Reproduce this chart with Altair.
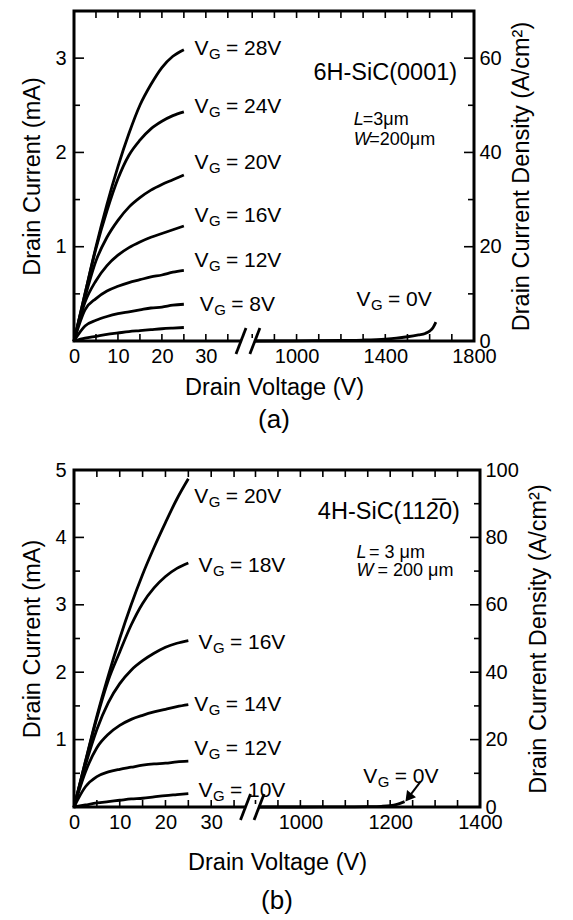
import altair as alt
import pandas as pd

FONT = "Liberation Sans"

# ---------------- data ----------------
VD = [0, 2.5, 5, 7.5, 10, 12.5, 15, 17.5, 20, 22.5, 25]

# panel (a): 6H-SiC(0001)
A_GATE = ["28V", "24V", "20V", "16V", "12V", "8V", "4V"]
A_ID = [
    [0, 0.50, 1.00, 1.45, 1.85, 2.20, 2.50, 2.72, 2.90, 3.02, 3.09],
    [0, 0.50, 0.98, 1.38, 1.72, 1.97, 2.13, 2.25, 2.33, 2.39, 2.43],
    [0, 0.46, 0.85, 1.10, 1.28, 1.42, 1.52, 1.60, 1.66, 1.71, 1.76],
    [0, 0.41, 0.64, 0.80, 0.91, 0.99, 1.05, 1.10, 1.14, 1.18, 1.22],
    [0, 0.33, 0.45, 0.53, 0.58, 0.62, 0.65, 0.68, 0.70, 0.73, 0.75],
    [0, 0.16, 0.22, 0.26, 0.29, 0.31, 0.33, 0.35, 0.36, 0.38, 0.39],
    [0, 0.03, 0.05, 0.07, 0.085, 0.10, 0.11, 0.12, 0.13, 0.137, 0.143],
]
A_OFF_VD = [790, 1000, 1200, 1300, 1400, 1450, 1500, 1550, 1580, 1600, 1615, 1628]
A_OFF_ID = [0, 0.002, 0.006, 0.01, 0.02, 0.03, 0.045, 0.065, 0.08, 0.105, 0.14, 0.2]
A_LAB_TXT = ["= 28V", "= 24V", "= 20V", "= 16V", "= 12V", "= 8V", "= 0V"]
A_LAB_VD = [27.4, 27.4, 27.4, 27.4, 27.4, 28.6, 1270]
A_LAB_ID = [3.10, 2.48, 1.89, 1.33, 0.85, 0.38, 0.43]
A_XDOMAIN = [0, 38, 790, 1800]
A_XLABELS = [0, 10, 20, 30, 1000, 1400, 1800]
A_XTICKS = [5, 10, 15, 20, 25, 30, 35, 800, 900, 1000, 1100, 1200, 1300, 1400, 1500, 1600, 1700]
A_BREAK = [38, 812]
A_YMAX, A_JMAX = 3.5, 70
A_YLABELS = [1, 2, 3]
A_YMAJOR = [1, 2, 3]
A_YMINOR = [0.5, 1.5, 2.5]
A_JLABELS = [0, 20, 40, 60]
A_JMAJOR = [20, 40, 60]
A_JMINOR = [10, 30, 50]
A_SIC = ("6H-SiC(0001)", 1724, 2.84)
A_LW = [("L", "=3\u03bcm", 1258, 2.34, 9), ("W", "=200\u03bcm", 1258, 2.13, 15.5)]

# panel (b): 4H-SiC(11-20)
B_GATE = ["20V", "18V", "16V", "14V", "12V", "10V"]
B_ID = [
    [0, 0.68, 1.35, 1.95, 2.50, 3.00, 3.45, 3.85, 4.22, 4.57, 4.87],
    [0, 0.67, 1.32, 1.88, 2.30, 2.70, 3.02, 3.25, 3.42, 3.54, 3.62],
    [0, 0.62, 1.15, 1.55, 1.83, 2.03, 2.17, 2.28, 2.37, 2.43, 2.47],
    [0, 0.52, 0.88, 1.08, 1.21, 1.30, 1.36, 1.41, 1.45, 1.49, 1.52],
    [0, 0.30, 0.45, 0.52, 0.56, 0.59, 0.62, 0.64, 0.65, 0.67, 0.68],
    [0, 0.03, 0.06, 0.08, 0.10, 0.12, 0.13, 0.15, 0.17, 0.185, 0.20],
]
B_OFF_VD = [890, 1000, 1100, 1150, 1180, 1200, 1215, 1232]
B_OFF_ID = [0, 0, 0.002, 0.005, 0.01, 0.02, 0.04, 0.08]
B_LAB_TXT = ["= 20V", "= 18V", "= 16V", "= 14V", "= 12V", "= 10V", "= 0V"]
B_LAB_VD = [26.3, 27.2, 27.2, 26.3, 26.3, 27.2, 1140]
B_LAB_ID = [4.60, 3.58, 2.44, 1.52, 0.86, 0.24, 0.44]
B_XDOMAIN = [0, 37.5, 890, 1400]
B_XLABELS = [0, 10, 20, 30, 1000, 1200, 1400]
B_XTICKS = [5, 10, 15, 20, 25, 30, 35, 900, 950, 1000, 1050, 1100, 1150, 1200, 1250, 1300, 1350]
B_BREAK = [37.7, 908]
B_YMAX, B_JMAX = 5, 100
B_YLABELS = [1, 2, 3, 4, 5]
B_YMAJOR = [1, 2, 3, 4]
B_YMINOR = [0.5, 1.5, 2.5, 3.5, 4.5]
B_JLABELS = [0, 20, 40, 60, 80, 100]
B_JMAJOR = [20, 40, 60, 80]
B_JMINOR = [10, 30, 50, 70, 90]
B_SIC = ("4H-SiC(112\u03050)", 1355, 4.37)
B_LW = [("L", "= 3 \u03bcm", 1125, 3.77, 12.5), ("W", "= 200 \u03bcm", 1125, 3.50, 21)]
B_ARROW = [1268, 0.38, 1243, 0.16]


def panel(W, H, xdom, xrng, ymax, jmax, gates, ids, off_vd, off_id,
          lab_txt, lab_vd, lab_id, xlabels, xticks, brk, ylabels, ymajor,
          yminor, jlabels, jmajor, jminor, sic, lw, caption, xtitle_pad,
          cap_offset, arrow=None):
    xs = alt.Scale(domain=xdom, range=xrng, zero=False, nice=False)
    ys = alt.Scale(domain=[0, ymax], zero=False, nice=False)
    js = alt.Scale(domain=[0, jmax], zero=False, nice=False)
    xaxis = alt.Axis(values=xlabels, title="Drain Voltage (V)", ticks=False,
                     domain=False, grid=False, labelFlush=False,
                     labelOverlap=False, labelPadding=5, titlePadding=xtitle_pad,
                     format="d")
    yaxis = alt.Axis(values=ylabels, title="Drain Current (mA)", ticks=False,
                     domain=False, grid=False, labelPadding=8,
                     titlePadding=10, format="d")
    jaxis = alt.Axis(orient="right", values=jlabels,
                     title="Drain Current Density (A/cm\u00b2)", ticks=False,
                     domain=False, grid=False, labelPadding=5,
                     titlePadding=8, titleAngle=270, titleBaseline="top",
                     format="d")

    def X(f):
        return alt.X(f, type="quantitative", scale=xs, axis=xaxis)

    def Y(f):
        return alt.Y(f, type="quantitative", scale=ys, axis=yaxis)

    rows = []
    for g, vals in zip(gates, ids):
        for v, i in zip(VD, vals):
            rows.append({"gate": g, "vd": v, "id": i})
    curves = pd.DataFrame(rows)
    off = pd.DataFrame({"vd": off_vd, "id": off_id})
    labs = pd.DataFrame({"vd": lab_vd, "id": lab_id, "txt": lab_txt})

    black = "black"
    layers = []
    layers.append(alt.Chart(curves).mark_line(color=black, strokeWidth=2.8,
                                              interpolate="monotone").encode(
        x=X("vd"), y=Y("id"), detail="gate:N"))
    layers.append(alt.Chart(off).mark_line(color=black, strokeWidth=2.8,
                                           interpolate="monotone").encode(
        x=X("vd"), y=Y("id")))
    # gate-voltage labels: V + subscript G + "= ..V"
    layers.append(alt.Chart(labs).mark_text(text="V", align="left", baseline="middle",
                                            font=FONT, fontSize=21, color=black).encode(
        x=X("vd"), y=Y("id")))
    layers.append(alt.Chart(labs).mark_text(text="G", align="left", baseline="middle",
                                            font=FONT, fontSize=15, dx=14.5, dy=5,
                                            color=black).encode(x=X("vd"), y=Y("id")))
    layers.append(alt.Chart(labs).mark_text(align="left", baseline="middle",
                                            font=FONT, fontSize=21, dx=31.5,
                                            color=black).encode(
        x=X("vd"), y=Y("id"), text="txt:N"))
    # material and geometry annotations
    sic_df = pd.DataFrame({"vd": [sic[1]], "id": [sic[2]], "txt": [sic[0]]})
    layers.append(alt.Chart(sic_df).mark_text(align="right", baseline="middle",
                                              font=FONT, fontSize=23.5, color=black).encode(
        x=X("vd"), y=Y("id"), text="txt:N"))
    lw_df = pd.DataFrame({"sym": [r[0] for r in lw], "txt": [r[1] for r in lw],
                          "vd": [r[2] for r in lw], "id": [r[3] for r in lw]})
    layers.append(alt.Chart(lw_df).mark_text(align="left", baseline="middle",
                                             font=FONT, fontSize=18, fontStyle="italic",
                                             color=black).encode(
        x=X("vd"), y=Y("id"), text="sym:N"))
    for k, r in enumerate(lw):
        one = lw_df.iloc[[k]]
        layers.append(alt.Chart(one).mark_text(align="left", baseline="middle",
                                               font=FONT, fontSize=18, dx=r[4],
                                               color=black).encode(
            x=X("vd"), y=Y("id"), text="txt:N"))
    # inward ticks
    tick = dict(color=black, strokeWidth=1.6)
    layers.append(alt.Chart(pd.DataFrame({"t": ymajor})).mark_rule(**tick).encode(
        y=Y("t"), x=alt.value(0), x2=alt.value(10)))
    layers.append(alt.Chart(pd.DataFrame({"t": yminor})).mark_rule(**tick).encode(
        y=Y("t"), x=alt.value(0), x2=alt.value(6)))
    xt = pd.DataFrame({"t": xticks})
    layers.append(alt.Chart(xt).mark_rule(**tick).encode(
        x=X("t"), y=alt.value(H), y2=alt.value(H - 7)))
    layers.append(alt.Chart(xt).mark_rule(**tick).encode(
        x=X("t"), y=alt.value(0), y2=alt.value(7)))
    # axis break
    gap = pd.DataFrame({"a": [brk[0]], "b": [brk[1]]})
    layers.append(alt.Chart(gap).mark_rule(color="white", strokeWidth=6).encode(
        x=X("a"), x2="b", y=alt.value(H)))
    slash = pd.DataFrame({"v": brk})
    layers.append(alt.Chart(slash).mark_rule(color=black, strokeWidth=2.8,
                                             xOffset=-5, x2Offset=5).encode(
        x=X("v"), x2="v", y=alt.value(H + 13), y2=alt.value(H - 13)))
    if arrow is not None:
        ar = pd.DataFrame({"v0": [arrow[0]], "i0": [arrow[1]],
                           "v1": [arrow[2]], "i1": [arrow[3]]})
        layers.append(alt.Chart(ar).mark_rule(color=black, strokeWidth=2).encode(
            x=X("v0"), y=Y("i0"), x2="v1", y2="i1"))
        layers.append(alt.Chart(ar).mark_point(shape="triangle", filled=True,
                                               color=black, opacity=1, size=130,
                                               angle=218).encode(
            x=X("v1"), y=Y("i1")))
    left = alt.layer(*layers)

    rlayers = [
        alt.Chart(pd.DataFrame({"t": jmajor})).mark_rule(**tick).encode(
            y=alt.Y("t", type="quantitative", scale=js, axis=jaxis),
            x=alt.value(W), x2=alt.value(W - 10)),
        alt.Chart(pd.DataFrame({"t": jminor})).mark_rule(**tick).encode(
            y=alt.Y("t", type="quantitative", scale=js, axis=jaxis),
            x=alt.value(W), x2=alt.value(W - 6)),
    ]
    right = alt.layer(*rlayers)
    return alt.layer(left, right).resolve_scale(y="independent").properties(
        width=W, height=H,
        title=alt.TitleParams(caption, orient="bottom", fontSize=26, font=FONT,
                              fontWeight="normal", color=black, offset=cap_offset))


WA, HA = 400, 330
WB, HB = 406, 337
chart_a = panel(WA, HA, A_XDOMAIN, [0, 167, 176, WA], A_YMAX, A_JMAX, A_GATE, A_ID,
                A_OFF_VD, A_OFF_ID, A_LAB_TXT, A_LAB_VD, A_LAB_ID, A_XLABELS,
                A_XTICKS, A_BREAK, A_YLABELS, A_YMAJOR, A_YMINOR, A_JLABELS,
                A_JMAJOR, A_JMINOR, A_SIC, A_LW, "(a)", 9, 8)
chart_b = panel(WB, HB, B_XDOMAIN, [0, 171.5, 177, WB], B_YMAX, B_JMAX, B_GATE, B_ID,
                B_OFF_VD, B_OFF_ID, B_LAB_TXT, B_LAB_VD, B_LAB_ID, B_XLABELS,
                B_XTICKS, B_BREAK, B_YLABELS, B_YMAJOR, B_YMINOR, B_JLABELS,
                B_JMAJOR, B_JMINOR, B_SIC, B_LW, "(b)", 18, 14,
                arrow=B_ARROW)

chart = alt.vconcat(chart_a, chart_b, spacing=24).properties(
    padding={"left": 11, "top": 0, "right": 0, "bottom": 0}
).configure_view(stroke="black", strokeWidth=3).configure_axis(
    labelFont=FONT, titleFont=FONT, labelFontSize=20, titleFontSize=23.5,
    labelColor="black", titleColor="black", titleFontWeight="normal"
).configure_concat(spacing=24)

chart.save("out.html", embed_options={"renderer": "svg", "actions": False})
